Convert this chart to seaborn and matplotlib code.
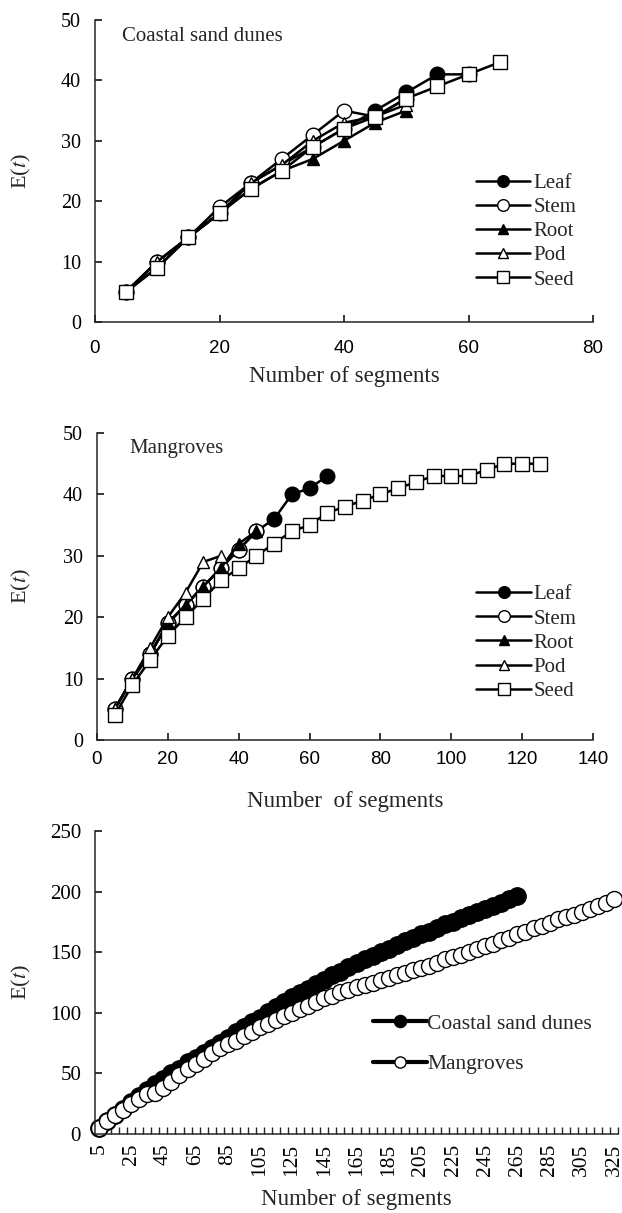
import matplotlib
matplotlib.use('Agg')
import matplotlib.pyplot as plt
import numpy as np
import seaborn as sns

# panel 1: coastal sand dunes
dune_seg = [5, 10, 15, 20, 25, 30, 35, 40, 45, 50, 55, 60, 65]
dune_leaf = [5, 10, 14, 18, 23, 26, 29, 32, 35, 38, 41, 41]
dune_stem = [5, 10, 14, 19, 23, 27, 31, 35, 34, 37]
dune_root = [5, 9, 14, 18, 22, 25, 27, 30, 33, 35]
dune_pod = [5, 10, 14, 18, 23, 26, 30, 33, 34, 36]
dune_seed = [5, 9, 14, 18, 22, 25, 29, 32, 34, 37, 39, 41, 43]

# panel 2: mangroves
mang_seg = list(range(5, 130, 5))
mang_leaf = [5, 10, 14, 19, 22, 25, 28, 31, 34, 36, 40, 41, 43]
mang_stem = [5, 10, 14, 19, 22, 25, 28, 31, 34]
mang_root = [5, 10, 14, 19, 22, 25, 28, 32, 34]
mang_pod = [5, 10, 15, 20, 24, 29, 30]
mang_seed = [4, 9, 13, 17, 20, 23, 26, 28, 30, 32, 34, 35, 37, 38, 39, 40,
             41, 42, 43, 43, 43, 44, 45, 45, 45]

# panel 3: whole plant, both habitats
all_seg = list(range(5, 330, 5))
coastal_all = [5, 11, 16, 21, 26, 31, 36, 41, 45, 50, 54, 59, 63, 67, 71, 75,
               79, 84, 88, 92, 96, 101, 105, 109, 113, 116, 120, 124, 127, 131,
               134, 138, 141, 144, 147, 150, 153, 156, 159, 162, 165, 167, 170,
               173, 175, 178, 181, 183, 186, 188, 191, 194, 196]
mangrove_all = [5, 11, 16, 20, 25, 29, 33, 34, 38, 43, 49, 54, 58, 62, 67, 71,
                74, 77, 81, 84, 88, 91, 94, 97, 100, 103, 106, 109, 112, 114,
                117, 119, 121, 123, 125, 127, 129, 131, 133, 135, 137, 139, 141,
                144, 146, 148, 150, 153, 155, 157, 160, 162, 165, 167, 170, 172,
                174, 177, 179, 181, 183, 186, 188, 191, 194]

organs = ['Leaf', 'Stem', 'Root', 'Pod', 'Seed']
organ_style = {'Leaf': ('o', 'black'), 'Stem': ('o', 'white'), 'Root': ('^', 'black'),
               'Pod': ('^', 'white'), 'Seed': ('s', 'white')}

sns.set_style('ticks')
plt.rcParams['font.family'] = ['Liberation Serif', 'DejaVu Serif']
plt.rcParams['mathtext.fontset'] = 'stix'
plt.rcParams['axes.linewidth'] = 1.1

W, H = 622, 1213
fig = plt.figure(figsize=(W / 100, H / 100), dpi=100)


def rect(left, top, right, bottom):
    return [left / W, 1 - bottom / H, (right - left) / W, (bottom - top) / H]


def style_axes(ax, left, right, top, bottom, xlab_top, xlab):
    sns.despine(ax=ax)
    ax.tick_params(direction='in', length=5, width=1.1, colors='black')
    ax.tick_params(axis='y', pad=10)
    ax.set_ylabel('E($t$)', fontsize=16)
    ax.yaxis.set_label_coords((33 - left) / (right - left), 0.5)
    ax.set_xlabel(xlab, fontsize=16.5)
    ax.xaxis.set_label_coords(0.5, (bottom - xlab_top) / (bottom - top))


def organ_panel(ax, seg, series):
    for name, vals in zip(organs, series):
        marker, face = organ_style[name]
        size = 9 if marker == '^' else 10.5
        sns.lineplot(x=seg[:len(vals)], y=vals, ax=ax, sort=False, color='black',
                     marker=marker, markersize=size, markerfacecolor=face,
                     markeredgecolor='black', markeredgewidth=1.0, linewidth=1.8,
                     label=name)


def organ_legend(ax, ycen):
    ax.legend(loc='center left', bbox_to_anchor=(0.765, ycen), frameon=False,
              fontsize=15, handlelength=2.6, handletextpad=0.15, labelspacing=0.22,
              markerscale=0.8, borderaxespad=0, borderpad=0)


def sans_xticks(ax):
    for lab in ax.get_xticklabels():
        lab.set_fontfamily('Liberation Sans')
        lab.set_fontstretch('condensed')
        lab.set_fontsize(13.5)
    for lab in ax.get_yticklabels():
        lab.set_fontsize(14.5)


# ---- panel 1
ax1 = fig.add_axes(rect(95, 20, 593, 322))
organ_panel(ax1, dune_seg, [dune_leaf, dune_stem, dune_root, dune_pod, dune_seed])
style_axes(ax1, 95, 593, 20, 322, 366, 'Number of segments')
ax1.set_xlim(0, 80)
ax1.set_ylim(0, 50)
ax1.set_xticks(np.arange(0, 81, 20))
ax1.set_yticks(np.arange(0, 51, 10))
ax1.tick_params(axis='x', pad=13)
sans_xticks(ax1)
ax1.text(0.054, 0.947, 'Coastal sand dunes', transform=ax1.transAxes,
         fontsize=15, va='center', ha='left')
organ_legend(ax1, 0.30)

# ---- panel 2
ax2 = fig.add_axes(rect(97, 433, 593, 740))
organ_panel(ax2, mang_seg, [mang_leaf, mang_stem, mang_root, mang_pod, mang_seed])
style_axes(ax2, 97, 593, 433, 740, 791, 'Number  of segments')
ax2.set_xlim(0, 140)
ax2.set_ylim(0, 50)
ax2.set_xticks(np.arange(0, 141, 20))
ax2.set_yticks(np.arange(0, 51, 10))
ax2.tick_params(axis='x', pad=8)
sans_xticks(ax2)
ax2.text(0.065, 0.951, 'Mangroves', transform=ax2.transAxes,
         fontsize=15, va='center', ha='left')
organ_legend(ax2, 0.316)

# ---- panel 3
ax3 = fig.add_axes(rect(95, 831, 618, 1134))
sns.lineplot(x=all_seg[:len(coastal_all)], y=coastal_all, ax=ax3, sort=False,
             color='black', marker='o', markersize=12.5, markerfacecolor='black',
             markeredgecolor='black', markeredgewidth=1.0, linewidth=3,
             label='Coastal sand dunes', clip_on=False)
sns.lineplot(x=all_seg, y=mangrove_all, ax=ax3, sort=False,
             color='black', marker='o', markersize=11.5, markerfacecolor='white',
             markeredgecolor='black', markeredgewidth=1.0, linewidth=3,
             label='Mangroves', clip_on=False)
style_axes(ax3, 95, 618, 831, 1134, 1189, 'Number of segments')
ax3.set_xlim(2.5, 327.5)
ax3.set_ylim(0, 250)
ax3.set_yticks(np.arange(0, 251, 50))
ax3.set_xticks(all_seg[::4])
ax3.set_xticks(np.arange(2.5, 330, 5), minor=True)
ax3.tick_params(axis='x', which='major', length=0, pad=7)
ax3.tick_params(axis='x', which='minor', direction='in', length=5, width=1.0)
ax3.set_xticklabels([str(v) for v in all_seg[::4]], rotation=90, fontsize=15.5)
for lab in ax3.get_yticklabels():
    lab.set_fontsize(15)
ax3.legend(loc='center left', bbox_to_anchor=(0.532, 0.297), frameon=False,
           fontsize=15.5, handlelength=2.5, handletextpad=0.0, labelspacing=0.95,
           markerscale=0.7, borderaxespad=0, borderpad=0)

fig.savefig('out.png', dpi=100)
